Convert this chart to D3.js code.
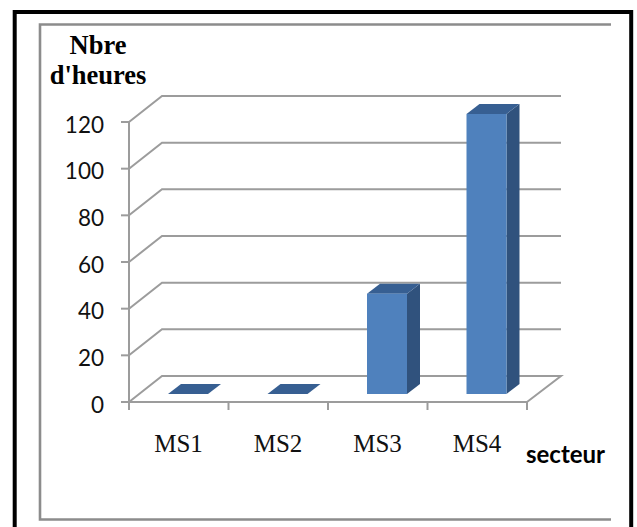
<!DOCTYPE html>
<html>
<head>
<meta charset="utf-8">
<script src="https://cdn.jsdelivr.net/npm/d3@7/dist/d3.min.js"></script>
<style>
html,body{margin:0;padding:0;background:#fff}
svg{display:block}
</style>
</head>
<body>
<svg id="chart" width="637" height="527"></svg>
<script>
// Hours per sector
const categories = ["MS1", "MS2", "MS3", "MS4"];
const hours = [0, 0, 43, 120];
const yTicks = [0, 20, 40, 60, 80, 100, 120];

const svg = d3.select("#chart");
const GRID = "#9c9c9c";

// Outer black frame, open at the bottom edge of the page
svg.append("rect").attr("x", 14.7).attr("y", 12).attr("width", 616.5).attr("height", 530)
  .attr("fill", "#fff").attr("stroke", "#000").attr("stroke-width", 4);
// Inner grey frame has no right side
svg.append("path").attr("d", "M611,24.5H40V519.5H611")
  .attr("fill", "none").attr("stroke", "#8c8c8c").attr("stroke-width", 2.6);

// Front-plane scales; the 3D depth is a fixed offset
const x = d3.scaleBand().domain(categories).range([129, 527]);
const y = d3.scaleLinear().domain([0, 120]).range([402, 122]);
const depth = {dx: 33, dy: -26};
const barInset = 39;
const barLift = 8;
const barDepth = {dx: 13, dy: -10};
const barY = d3.scaleLinear().domain([0, 120]).range([402 - barLift, 114]);

const grid = svg.append("g").attr("fill", "none").attr("stroke", GRID).attr("stroke-width", 2);

// Side wall and back wall lines
yTicks.forEach(t => {
  const pts = [[x.range()[0], y(t)], [x.range()[0] + depth.dx, y(t) + depth.dy], [x.range()[1] + depth.dx + 1, y(t) + depth.dy]];
  if (t === 0) pts.push([x.range()[1], y(t)]);
  grid.append("path").attr("d", d3.line()(pts));
});

// Value axis with outward ticks
grid.append("path").attr("d", d3.line()([[x.range()[0], y(120)], [x.range()[0], y(0)]]));
yTicks.forEach(t => {
  grid.append("path").attr("d", d3.line()([[x.range()[0] - 8, y(t)], [x.range()[0], y(t)]]));
});

// Category axis with ticks between the categories
grid.append("path").attr("d", d3.line()([[x.range()[0], y(0)], [x.range()[1], y(0)]]));
categories.forEach(c => {
  grid.append("path").attr("d", d3.line()([[x(c), y(0)], [x(c), y(0) + 8]]));
});
grid.append("path").attr("d", d3.line()([[x.range()[1], y(0)], [x.range()[1], y(0) + 8]]));

// Bars: front, side and top faces
const bars = svg.append("g").selectAll("g").data(categories).join("g");
const left = c => x(c) + barInset;
const right = c => left(c) + 40;
const val = c => hours[categories.indexOf(c)];
const bottom = barY(0);

bars.append("path").attr("fill", "#30527d").attr("d", c => d3.line()([
  [right(c), barY(val(c))], [right(c) + barDepth.dx, barY(val(c)) + barDepth.dy],
  [right(c) + barDepth.dx, bottom + barDepth.dy], [right(c), bottom]
]));
bars.append("path").attr("fill", "#375f92").attr("d", c => d3.line()([
  [left(c), barY(val(c))], [left(c) + barDepth.dx, barY(val(c)) + barDepth.dy],
  [right(c) + barDepth.dx, barY(val(c)) + barDepth.dy], [right(c), barY(val(c))]
]));
bars.append("rect").attr("fill", "#4f81bd")
  .attr("x", c => left(c)).attr("width", 40)
  .attr("y", c => barY(val(c))).attr("height", c => bottom - barY(val(c)));

// Value labels
svg.append("g").selectAll("text").data(yTicks).join("text")
  .attr("x", 104).attr("y", d => y(d) + 10.5).attr("text-anchor", "end")
  .attr("font-family", "Lato, 'Open Sans', sans-serif").attr("font-size", 22.5).attr("fill", "#111")
  .text(d => d);

// Category labels
svg.append("g").selectAll("text").data(categories).join("text")
  .attr("x", c => x(c) + 49.5).attr("y", 452).attr("text-anchor", "middle")
  .attr("font-family", "'Liberation Serif', serif").attr("font-size", 25).attr("fill", "#111")
  .text(c => c);

// Axis titles
const title = svg.append("g").attr("font-family", "'Liberation Serif', serif").attr("font-weight", "bold")
  .attr("font-size", 26.5).attr("fill", "#000").attr("text-anchor", "middle");
title.append("text").attr("x", 98).attr("y", 54).text("Nbre");
title.append("text").attr("x", 98).attr("y", 84).text("d'heures");
svg.append("text").attr("x", 565.5).attr("y", 463).attr("text-anchor", "middle")
  .attr("font-family", "Lato, 'Open Sans', sans-serif").attr("font-weight", "bold")
  .attr("font-size", 24).attr("fill", "#000").text("secteur");
</script>
</body>
</html>
